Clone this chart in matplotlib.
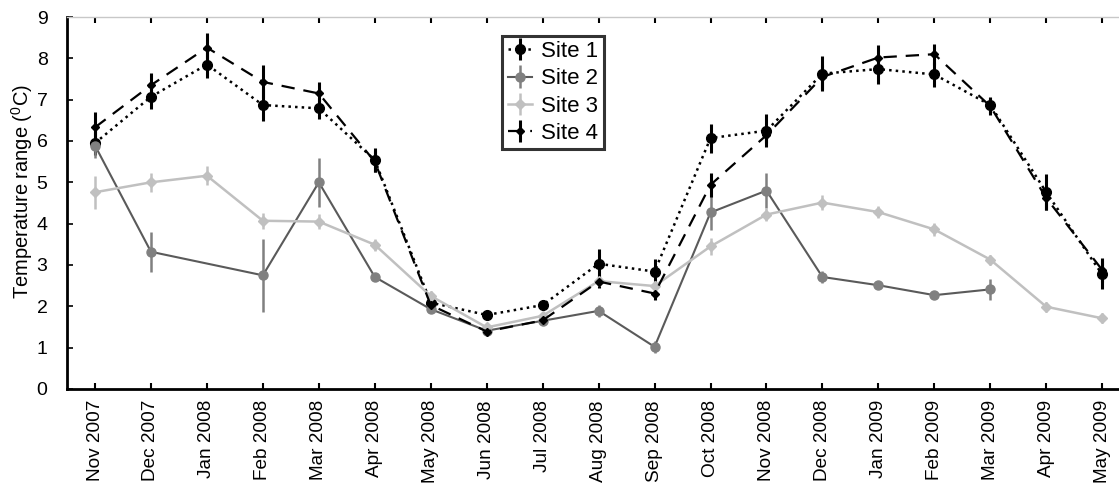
import matplotlib
matplotlib.use('Agg')
import matplotlib.pyplot as plt
import numpy as np

plt.rcParams['font.family'] = ['Liberation Sans', 'DejaVu Sans']
plt.rcParams['mathtext.default'] = 'regular'

months = ['Nov 2007', 'Dec 2007', 'Jan 2008', 'Feb 2008', 'Mar 2008', 'Apr 2008',
          'May 2008', 'Jun 2008', 'Jul 2008', 'Aug 2008', 'Sep 2008', 'Oct 2008',
          'Nov 2008', 'Dec 2008', 'Jan 2009', 'Feb 2009', 'Mar 2009', 'Apr 2009',
          'May 2009']

# mean temperature range per site and its error
site1 = [5.95, 7.07, 7.85, 6.87, 6.79, 5.54, 2.09, 1.79, 2.03, 3.03, 2.84, 6.07,
         6.25, 7.63, 7.74, 7.61, 6.87, 4.76, 2.77]
site1_err = [0.3, 0.3, 0.32, 0.39, 0.25, 0.28, 0.12, 0.1, 0.12, 0.35, 0.3, 0.35,
             0.4, 0.42, 0.35, 0.3, 0.2, 0.43, 0.35]
site2 = [5.89, 3.32, np.nan, 2.75, 5.0, 2.71, 1.93, 1.41, 1.65, 1.89, 1.02, 4.27,
         4.8, 2.71, 2.51, 2.27, 2.41, np.nan, np.nan]
site2_err = [0.3, 0.49, np.nan, 0.88, 0.6, 0.1, 0.1, 0.08, 0.1, 0.15, 0.15, 0.42,
             0.42, 0.14, 0.08, 0.08, 0.25, np.nan, np.nan]
site3 = [4.76, 5.0, 5.16, 4.07, 4.05, 3.49, 2.25, 1.49, 1.77, 2.61, 2.49, 3.45,
         4.22, 4.51, 4.28, 3.86, 3.13, 1.99, 1.71]
site3_err = [0.4, 0.23, 0.23, 0.19, 0.18, 0.15, 0.12, 0.1, 0.1, 0.12, 0.12, 0.2,
             0.16, 0.18, 0.15, 0.15, 0.12, 0.12, 0.12]
site4 = [6.33, 7.35, 8.26, 7.43, 7.15, 5.5, 2.03, 1.39, 1.66, 2.6, 2.31, 4.94,
         6.14, 7.55, 8.02, 8.1, 6.84, 4.62, 2.88]
site4_err = [0.36, 0.3, 0.35, 0.4, 0.27, 0.25, 0.12, 0.08, 0.1, 0.15, 0.15, 0.29,
             0.2, 0.3, 0.3, 0.25, 0.2, 0.3, 0.3]

x = np.arange(len(months))

fig = plt.figure(figsize=(11.19, 4.93), dpi=100)
ax = fig.add_axes([0.0599, 0.211, 0.9401, 0.7545])

styles = [
    (site1, site1_err, dict(color='black', ls=':', marker='o', ms=7, lw=1.8,
                            ecolor='black', elinewidth=2.2)),
    (site2, site2_err, dict(color='#5a5a5a', ls='-', marker='o', ms=6.5, lw=1.5,
                            mfc='#808080', mec='#808080',
                            ecolor='#808080', elinewidth=1.8)),
    (site3, site3_err, dict(color='#c0c0c0', ls='-', marker='D', ms=5, lw=1.8,
                            ecolor='#c0c0c0', elinewidth=1.8)),
    (site4, site4_err, dict(color='black', ls=(0, (6, 4)), marker='D', ms=4.5,
                            lw=1.6, ecolor='black', elinewidth=2.2)),
]

for vals, errs, kw in styles:
    v = np.array(vals, dtype=float)
    e = np.array(errs, dtype=float)
    ok = ~np.isnan(v)
    ax.errorbar(x[ok], v[ok], yerr=e[ok], capsize=0, zorder=3, **kw)

# legend handles drawn with caps
handles = []
for i, (vals, errs, kw) in enumerate(styles):
    h = ax.errorbar([], [], yerr=[], capsize=8, capthick=2, label=f'Site {i + 1}',
                    **kw)
    handles.append(h)
leg = ax.legend(handles=handles, loc='upper left', bbox_to_anchor=(0.4135, 0.95),
                fontsize=16, frameon=True, fancybox=False, handlelength=1.1,
                handletextpad=0.4, labelspacing=0.28, borderpad=0.25,
                borderaxespad=0)
leg.get_frame().set_edgecolor('black')
leg.get_frame().set_linewidth(2.2)

ax.set_xlim(-0.5, 18.3)
ax.set_ylim(0, 9)
ax.set_yticks(range(10))
ax.set_xticks(x)
ax.set_xticklabels(months, rotation=90, fontsize=13.7)
ax.tick_params(axis='y', labelsize=14, direction='in', length=4, width=1.2, pad=14)
ax.tick_params(axis='x', direction='in', length=4, width=1.5, top=True, pad=8)
ax.set_ylabel('Temperature range ($^{0}$C)', fontsize=14.5, labelpad=4)
ax.yaxis.set_label_coords(-0.03, 0.53)

for side in ['left', 'bottom']:
    ax.spines[side].set_linewidth(2)
ax.spines['top'].set_color('#c8c8c8')
ax.spines['top'].set_linewidth(1)
ax.spines['right'].set_visible(False)

fig.savefig('out.png', dpi=100)
